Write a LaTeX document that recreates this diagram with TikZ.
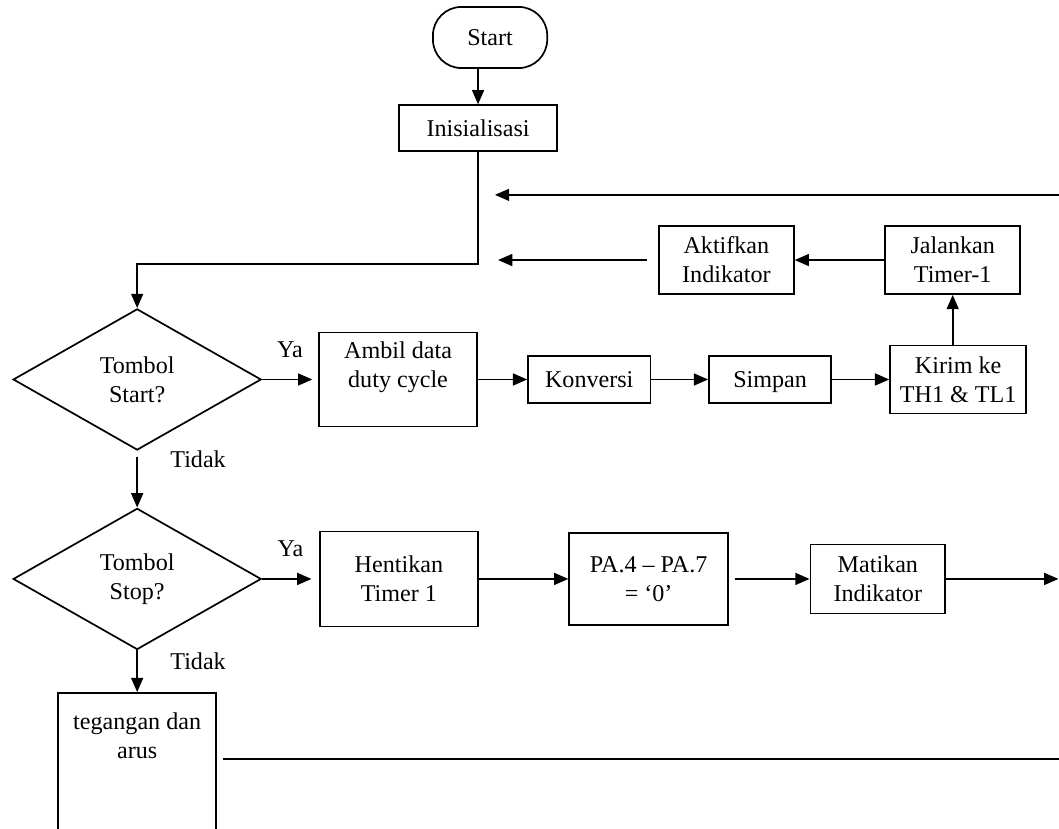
\documentclass[tikz,border=0pt]{standalone}
\usepackage{fontspec}
\setmainfont{Liberation Serif}
\usetikzlibrary{arrows.meta,shapes.geometric}

\tikzset{
  blocco/.style={draw, line width=0.85pt, align=center, inner sep=0pt},
  scelta/.style={draw, diamond, line width=0.85pt, align=center, inner sep=0pt,
    minimum width=4.34cm, minimum height=2.47cm},
  freccia/.style={line width=0.8pt, -{Triangle[length=0.25cm,width=0.21cm]}},
  linea/.style={line width=0.8pt}
}

\begin{document}
\begin{tikzpicture}[font=\fontsize{12}{14.5}\selectfont]
  \useasboundingbox (0,0) rectangle (18.53,-14.49);
  % blocchi in alto
  \node[blocco, rounded corners=0.5cm, minimum width=2cm, minimum height=1.07cm] (start) at (8.575,-0.656) {Start};
  \node[blocco, minimum width=2.77cm, minimum height=0.8cm] (init) at (8.365,-2.24) {Inisialisasi};
  \node[blocco, minimum width=2.36cm, minimum height=1.19cm] (aktif) at (12.71,-4.55) {Aktifkan\\Indikator};
  \node[blocco, minimum width=2.36cm, minimum height=1.19cm] (jalan) at (16.67,-4.55) {Jalankan\\Timer-1};
  % riga del tombol start
  \node[scelta] (tstart) at (2.4,-6.64) {Tombol\\Start?};
  \node[blocco, minimum width=2.77cm, minimum height=1.645cm,
    label={[name=ambiltesto, align=center, anchor=north, inner sep=4pt, yshift=-0.03cm]north:{Ambil data\\duty cycle}}] (ambil) at (6.965,-6.64) {};
  \node[blocco, minimum width=2.14cm, minimum height=0.82cm] (konv) at (10.31,-6.64) {Konversi};
  \node[blocco, minimum width=2.14cm, minimum height=0.82cm] (simpan) at (13.475,-6.64) {\raisebox{0pt}[\height][0pt]{Simpan}};
  \node[blocco, minimum width=2.38cm, minimum height=1.19cm] (kirim) at (16.765,-6.64) {Kirim ke\\TH1 \& TL1};
  % riga del tombol stop
  \node[scelta] (tstop) at (2.4,-10.13) {Tombol\\Stop?};
  \node[blocco, minimum width=2.77cm, minimum height=1.66cm] (henti) at (6.98,-10.13) {Hentikan\\Timer 1};
  \node[blocco, minimum width=2.78cm, minimum height=1.61cm] (pa) at (11.35,-10.13) {PA.4 – PA.7\\= ‘0’};
  \node[blocco, minimum width=2.36cm, minimum height=1.21cm] (mati) at (15.36,-10.13) {Matikan\\Indikator};
  \node[blocco, minimum width=2.77cm, minimum height=2.8cm, anchor=north,
    label={[name=tegtesto, align=center, anchor=north, inner sep=4pt, yshift=-0.22cm]north:{tegangan dan\\arus}}] (teg) at (2.4,-12.11) {};

  % collegamenti
  \coordinate (gabung) at (8.365,-4.62);
  \coordinate (balik1) at (18.53,-3.41);
  \coordinate (punta1) at (8.66,-3.41);
  \coordinate (punta2) at (8.715,-4.55);
  \coordinate (uscita) at (18.52,-10.13);
  \coordinate (balik2) at (18.53,-13.28);
  \draw[freccia] (start.south -| init.north) -- (init.north);
  \draw[freccia] (init.south) -- (gabung) -| (tstart.north);
  \draw[freccia] (balik1) -- (punta1);
  \draw[freccia, shorten <=0.19cm] (aktif.west) -- (punta2);
  \draw[freccia] (jalan.west) -- (aktif.east);
  \draw[freccia] (kirim.north -| jalan.south) -- (jalan.south);
  \draw[freccia, shorten >=0.1cm] (tstart.east) -- node[above=0.25cm] (ya1) {Ya} (ambil.west);
  \draw[freccia] (ambil.east) -- (konv.west);
  \draw[freccia] (konv.east) -- (simpan.west);
  \draw[freccia] (simpan.east) -- (kirim.west);
  \draw[freccia, shorten <=0.1cm] (tstart.south) -- node[right=0.45cm, pos=0.15] (tidak1) {Tidak} (tstop.north);
  \draw[freccia, shorten >=0.13cm] (tstop.east) -- node[above=0.25cm] (ya2) {Ya} (henti.west);
  \draw[freccia] (henti.east) -- (pa.west);
  \draw[freccia, shorten <=0.1cm] (pa.east) -- (mati.west);
  \draw[freccia] (mati.east) -- (uscita);
  \draw[freccia] (tstop.south) -- node[right=0.45cm, pos=0.27] (tidak2) {Tidak} (teg.north);
  \draw[linea, shorten <=0.1cm] (balik2 -| teg.east) -- (balik2);
\end{tikzpicture}
\end{document}
